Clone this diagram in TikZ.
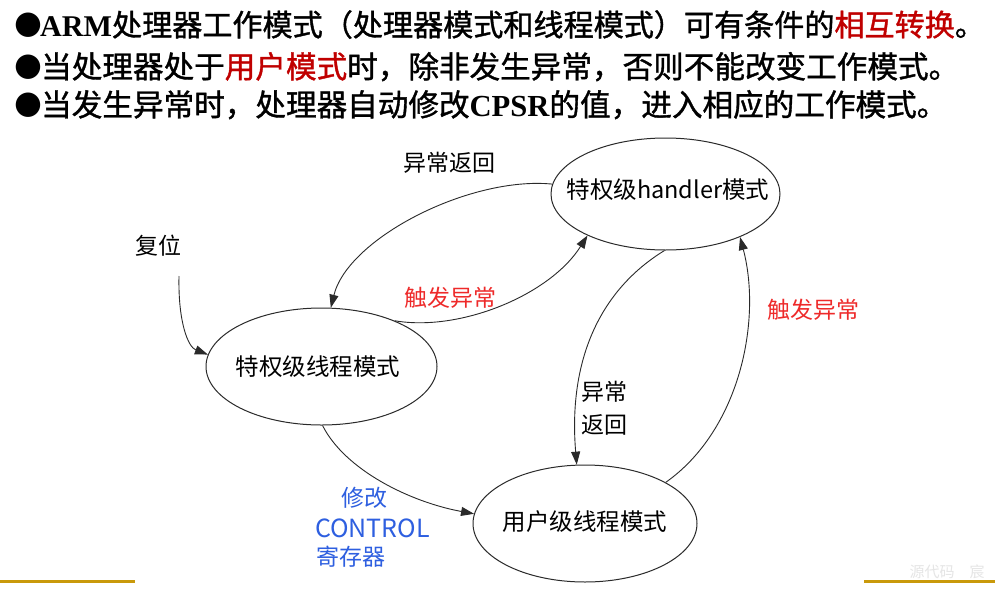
\documentclass[tikz,border=0pt]{standalone}
\usepackage{fontspec}
\usetikzlibrary{shapes.geometric,arrows.meta}
\newfontfamily\cjk{Noto Sans CJK SC}
\newfontfamily\cjkb{Noto Sans CJK SC}[FakeBold=1.2]
\newfontfamily\tnr{Liberation Serif}
\newfontfamily\dejavu{DejaVu Sans}
\definecolor{titlered}{HTML}{C00000}
\definecolor{lblred}{HTML}{EE2A2A}
\definecolor{lblblue}{HTML}{2E5FE0}
\definecolor{goldline}{HTML}{C9990B}
\definecolor{edgecol}{HTML}{2A2A2A}
\tikzset{
  bul/.style={inner sep=0, font=\dejavu\fontsize{32}{34}\selectfont},
  titleline/.style={inner sep=0, anchor=base west, font=\cjkb\fontsize{30.6}{34}\selectfont},
  statebox/.style={ellipse, draw=edgecol, line width=1pt, inner sep=0},
  statetext/.style={inner sep=0, font=\cjk\fontsize{23.5}{28}\selectfont},
  lbl/.style={inner sep=0, font=\cjk\fontsize{23}{27}\selectfont},
  conn/.style={draw=edgecol, line width=0.9pt, -{Triangle[length=13pt,width=9pt]}},
}
\begin{document}
\begin{tikzpicture}[x=1pt,y=-1pt]
\path[use as bounding box, fill=white] (0,0) rectangle (997,590);

% title lines
\node[bul] (b1) at (28,25) {●};
\node[bul] (b2) at (28,67) {●};
\node[bul] (b3) at (28,105) {●};
\node[titleline, font=\cjkb\fontsize{30.1}{34}\selectfont] (t1) at (40,36) {{\tnr\bfseries ARM}处理器工作模式（处理器模式和线程模式）可有条件的{\color{titlered}相互转换}。};
\node[titleline] (t2) at (41,78) {当处理器处于{\color{titlered}用户模式}时，除非发生异常，否则不能改变工作模式。};
\node[titleline] (t3) at (41,116) {当发生异常时，处理器自动修改{\tnr\bfseries CPSR}的值，进入相应的工作模式。};

% states
\node[statebox, minimum width=229pt, minimum height=112pt] (hd) at (665.5,194) {};
\node[statebox, minimum width=231pt, minimum height=117pt] (th) at (321.5,366.5) {};
\node[statebox, minimum width=224pt, minimum height=117pt] (us) at (585,523.5) {};
\node[statetext] (hdt) at (668,190) {特权级handler模式};
\node[statetext] (tht) at (318,367) {特权级线程模式};
\node[statetext] (ust) at (585,522) {用户级线程模式};

% labels
\node[lbl] (l1) at (449,163) {异常返回};
\node[lbl] (l2) at (158.5,246) {复位};
\node[lbl, text=lblred] (l3) at (450,298) {触发异常};
\node[lbl, text=lblred] (l4) at (813.5,310) {触发异常};
\node[lbl, align=left, font=\cjk\fontsize{23}{33}\selectfont] (l5) at (604.5,408.5) {异常\\返回};
\node[lbl, text=lblblue] (m1) at (364.5,498) {修改};
\node[lbl, text=lblblue, font=\cjk\fontsize{25}{30}\selectfont] (m2) at (372.5,528) {CONTROL};
\node[lbl, text=lblblue] (m3) at (351,557) {寄存器};

% connectors
\coordinate (rs) at (179,276);
\draw[conn] (rs) .. controls (178,322) and (188,347) .. (th.174);
\draw[conn] (hd.175) .. controls (470,176) and (348,238) .. (th.81);
\draw[conn] (th.32) .. controls (460,332) and (550,295) .. (hd.208);
\draw[conn] (hd.269) .. controls (600,290) and (568,360) .. (us.98);
\draw[conn] (us.27) .. controls (740,430) and (762,320) .. (hd.330);
\draw[conn] (th.271) .. controls (345,470) and (410,502) .. (us.175);

% bottom rules and watermark
\draw[goldline, line width=3pt] (0,581.5) -- (135,581.5);
\draw[goldline, line width=3pt] (864,581.5) -- (995,581.5);
\node[inner sep=0, text=black!10, font=\cjk\fontsize{15}{18}\selectfont] (wm) at (947,572) {源代码\quad 宸};
\end{tikzpicture}
\end{document}
